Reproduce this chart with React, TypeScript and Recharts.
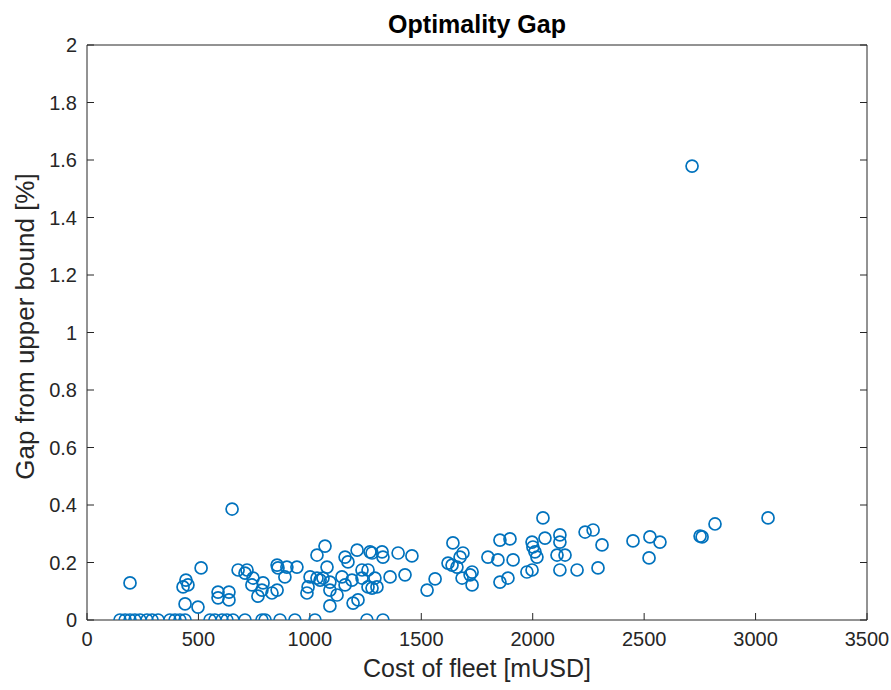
import React from 'react';
import { ScatterChart, Scatter, XAxis, YAxis } from 'recharts';

// Fleets whose solution reached the upper bound (gap = 0)
const zeroGapCosts = [148, 171, 193, 215, 238, 269, 292, 319, 372, 395, 417, 440, 552, 574, 606, 628, 655, 709, 785, 799, 866, 933, 1023, 1256, 1328];

// Remaining fleets: cost [mUSD] and gap [%]
const costOfFleet = [
  193, 651, 512, 444, 431, 453, 440, 498, 588, 588, 637, 637, 678, 718, 709, 745, 740, 790, 785, 767,
  830, 853, 853, 857, 897, 888, 942, 987, 992, 1001, 1032, 1068, 1077, 1032, 1046, 1059, 1090, 1090, 1090, 1122,
  1144, 1158, 1171, 1158, 1189, 1212, 1194, 1216, 1234, 1270, 1261, 1234, 1261, 1279, 1324, 1328, 1396, 1458, 1292, 1301,
  1279, 1360, 1427, 1526, 1562, 1642, 1687, 1620, 1638, 1660, 1674, 1683, 1728, 1719, 1728, 1799, 1844, 1853, 1853, 1898,
  1912, 1889, 1997, 2001, 2010, 2019, 1974, 1997, 2046, 2055, 2122, 2122, 2109, 2145, 2122, 2199, 2235, 2271, 2311, 2293,
  2450, 2526, 2571, 2522, 2751, 2760, 2818, 3056, 2715,
];
const gapFromUpperBound = [
  0.129, 0.386, 0.181, 0.139, 0.115, 0.122, 0.056, 0.045, 0.097, 0.077, 0.097, 0.07, 0.174, 0.174, 0.163, 0.146, 0.122, 0.129, 0.104, 0.083,
  0.094, 0.104, 0.191, 0.181, 0.184, 0.15, 0.184, 0.094, 0.115, 0.15, 0.226, 0.257, 0.184, 0.146, 0.139, 0.146, 0.132, 0.104, 0.049, 0.087,
  0.15, 0.219, 0.202, 0.122, 0.139, 0.243, 0.059, 0.07, 0.146, 0.237, 0.174, 0.174, 0.115, 0.233, 0.237, 0.219, 0.233, 0.223, 0.146, 0.115,
  0.111, 0.15, 0.157, 0.104, 0.143, 0.268, 0.233, 0.198, 0.191, 0.184, 0.219, 0.146, 0.167, 0.157, 0.122, 0.219, 0.209, 0.278, 0.132, 0.282,
  0.209, 0.146, 0.271, 0.254, 0.237, 0.219, 0.167, 0.174, 0.355, 0.285, 0.296, 0.271, 0.226, 0.226, 0.174, 0.174, 0.306, 0.313, 0.261, 0.181,
  0.275, 0.289, 0.271, 0.216, 0.292, 0.289, 0.334, 0.355, 1.579,
];

const xTicks = [0, 500, 1000, 1500, 2000, 2500, 3000, 3500];
const yTicks = [0, 0.2, 0.4, 0.6, 0.8, 1, 1.2, 1.4, 1.6, 1.8, 2];

const points = [
  ...zeroGapCosts.map((c) => ({ cost: c, gap: 0 })),
  ...costOfFleet.map((c, i) => ({ cost: c, gap: gapFromUpperBound[i] })),
];

const FONT = '"Liberation Sans", Arial, Helvetica, sans-serif';
const AXIS = '#262626';
const MARK = '#0072BD';

const tickStyle = { fill: AXIS, fontSize: 20, fontFamily: FONT };
const Empty = () => <g />;

const Marker = (props: any) => (
  <circle cx={props.cx} cy={props.cy} r={6} fill="none" stroke={MARK} strokeWidth={1.7} />
);

export default function App() {
  return (
    <div style={{ width: 891, height: 690, paddingLeft: 8, paddingTop: 8, boxSizing: 'border-box', background: '#fff' }}>
      <style>{`html,body{margin:0;padding:0;overflow:hidden}.recharts-wrapper,.recharts-surface{overflow:visible!important}`}</style>
      <ScatterChart
        width={883}
        height={674}
        margin={{ top: 36, right: 23, bottom: 32, left: 0 }}
      >
        <XAxis
          xAxisId="b"
          type="number"
          dataKey="cost"
          domain={[0, 3500]}
          ticks={xTicks}
          interval={0}
          allowDataOverflow
          height={30}
          tickSize={-7}
          tickMargin={19}
          stroke={AXIS}
          tick={tickStyle}
          label={{
            content: (p: any) => (
              <text
                x={p.viewBox.x + p.viewBox.width / 2}
                y={669}
                textAnchor="middle"
                fontSize={25}
                fontFamily={FONT}
                fill={AXIS}
              >
                Cost of fleet [mUSD]
              </text>
            ),
          }}
        />
        <XAxis
          xAxisId="t"
          orientation="top"
          type="number"
          domain={[0, 3500]}
          ticks={xTicks}
          interval={0}
          allowDataOverflow
          height={1}
          tickSize={-7}
          stroke={AXIS}
          tick={Empty}
          label={{
            content: (p: any) => (
              <text
                x={p.viewBox.x + p.viewBox.width / 2}
                y={25}
                textAnchor="middle"
                fontSize={25}
                fontWeight="bold"
                fontFamily={FONT}
                fill="#000"
              >
                Optimality Gap
              </text>
            ),
          }}
        />
        <YAxis
          yAxisId="l"
          type="number"
          dataKey="gap"
          domain={[0, 2]}
          ticks={yTicks}
          interval={0}
          allowDataOverflow
          width={79}
          tickSize={-7}
          tickMargin={17}
          stroke={AXIS}
          tick={tickStyle}
          tickFormatter={(v: number) => String(Number(v.toFixed(1)))}
          label={{
            content: (p: any) => {
              const cx = 26;
              const cy = p.viewBox.y + p.viewBox.height / 2 - 6;
              return (
                <text
                  x={cx}
                  y={cy}
                  transform={`rotate(-90, ${cx}, ${cy})`}
                  textAnchor="middle"
                  fontSize={26}
                  fontFamily={FONT}
                  fill={AXIS}
                >
                  Gap from upper bound [%]
                </text>
              );
            },
          }}
        />
        <YAxis
          yAxisId="r"
          orientation="right"
          type="number"
          domain={[0, 2]}
          ticks={yTicks}
          interval={0}
          allowDataOverflow
          width={1}
          tickSize={-7}
          stroke={AXIS}
          tick={Empty}
        />
        <Scatter
          xAxisId="b"
          yAxisId="l"
          data={points}
          shape={Marker}
          isAnimationActive={false}
        />
      </ScatterChart>
    </div>
  );
}
